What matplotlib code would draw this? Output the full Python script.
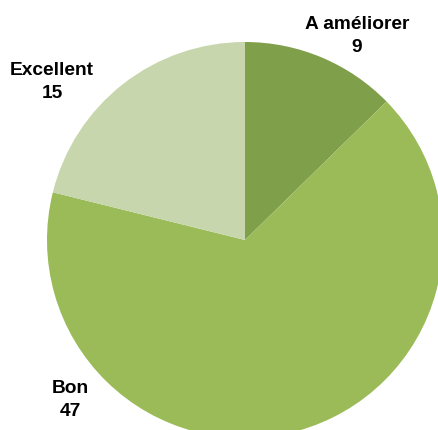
import matplotlib
matplotlib.use("Agg")
import matplotlib.pyplot as plt

categories = ["A améliorer", "Bon", "Excellent"]
values = [9, 47, 15]
colors = ["#7F9F4A", "#9BBB59", "#C7D6AD"]

W, H = 439, 430
fig = plt.figure(figsize=(W / 100, H / 100), dpi=100)
cx, cy, r = 245, 240, 198
ax = fig.add_axes([(cx - r) / W, (H - cy - r) / H, 2 * r / W, 2 * r / H])
ax.pie(values, colors=colors, startangle=90, counterclock=False, radius=1,
       wedgeprops=dict(linewidth=0))
ax.set_xlim(-1, 1)
ax.set_ylim(-1, 1)
ax.set_aspect("equal")
ax.axis("off")

label_pos = [(357, 36), (70, 400), (52, 82)]
for cat, val, (x, y) in zip(categories, values, label_pos):
    fig.text(x / W, 1 - y / H, f"{cat}\n{val}", ha="center", va="center",
             fontsize=13.8, fontweight="bold", family="Liberation Sans",
             linespacing=1.42, color="black")

fig.savefig("out.png", dpi=100)
